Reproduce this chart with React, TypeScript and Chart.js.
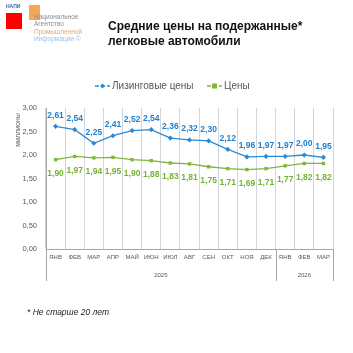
import React, { useEffect, useRef } from "react";
import { Chart, registerables } from "chart.js";

Chart.register(...registerables);

const months = ["ЯНВ", "ФЕВ", "МАР", "АПР", "МАЙ", "ИЮН", "ИЮЛ", "АВГ", "СЕН", "ОКТ", "НОЯ", "ДЕК", "ЯНВ", "ФЕВ", "МАР"];
const years = [
  { label: "2025", count: 12 },
  { label: "2026", count: 3 },
];
const leasingPrices = [2.61, 2.54, 2.25, 2.41, 2.52, 2.54, 2.36, 2.32, 2.3, 2.12, 1.96, 1.97, 1.97, 2.0, 1.95];
const prices = [1.9, 1.97, 1.94, 1.95, 1.9, 1.88, 1.83, 1.81, 1.75, 1.71, 1.69, 1.71, 1.77, 1.82, 1.82];
const seriesNames = ["Лизинговые цены", "Цены"];
const yTicksMin = 0;
const yTicksMax = 3;
const yTicksStep = 0.5;

const BLUE = "#2a8ad6";
const BLUE_TXT = "#1f80d0";
const GREEN = "#7db83a";
const GREEN_TXT = "#74b332";
const FONT = "'Liberation Sans', Arial, sans-serif";

const fmt = (v: number) => v.toFixed(2).replace(".", ",");

const overlayPlugin = {
  id: "overlay",
  afterDraw(chart: any) {
    const ctx = chart.ctx as CanvasRenderingContext2D;
    const xs = chart.scales.x;
    const area = chart.chartArea;
    ctx.save();

    // data labels
    const metaA = chart.getDatasetMeta(0);
    const metaB = chart.getDatasetMeta(1);
    ctx.textAlign = "center";
    ctx.textBaseline = "middle";
    ctx.font = `bold 8.5px ${FONT}`;
    ctx.fillStyle = BLUE_TXT;
    metaA.data.forEach((p: any, i: number) => {
      ctx.fillText(fmt(leasingPrices[i]), p.x, p.y - 11);
    });
    ctx.fillStyle = GREEN_TXT;
    metaB.data.forEach((p: any, i: number) => {
      ctx.fillText(fmt(prices[i]), p.x, p.y + 14);
    });

    // month labels
    ctx.font = `6px ${FONT}`;
    ctx.fillStyle = "#595959";
    months.forEach((m, i) => {
      ctx.fillText(m, xs.getPixelForValue(i), area.bottom + 8);
    });

    // year separators and labels
    const catW = (area.right - area.left) / months.length;
    ctx.strokeStyle = "#a6a6a6";
    ctx.lineWidth = 1;
    let idx = 0;
    const drawSep = (k: number) => {
      const x = Math.round(area.left + k * catW) + 0.5;
      ctx.beginPath();
      ctx.moveTo(x, area.bottom);
      ctx.lineTo(x, area.bottom + 32);
      ctx.stroke();
    };
    drawSep(0);
    years.forEach((y) => {
      const cx = area.left + (idx + y.count / 2) * catW;
      ctx.fillText(y.label, cx, area.bottom + 26);
      idx += y.count;
      drawSep(idx);
    });

    // y axis title
    ctx.save();
    ctx.translate(18, 130);
    ctx.rotate(-Math.PI / 2);
    ctx.font = `7px ${FONT}`;
    ctx.fillStyle = "#595959";
    ctx.fillText("миллионы", 0, 0);
    ctx.restore();

    // legend
    ctx.font = `10px ${FONT}`;
    ctx.textAlign = "left";
    ctx.fillStyle = "#595959";
    const ly = 86;
    const drawLegend = (x: number, color: string, style: string, text: string) => {
      ctx.strokeStyle = color;
      ctx.lineWidth = 1.5;
      ctx.setLineDash([4, 2]);
      ctx.beginPath();
      ctx.moveTo(x, ly);
      ctx.lineTo(x + 15, ly);
      ctx.stroke();
      ctx.setLineDash([]);
      ctx.fillStyle = color;
      if (style === "diamond") {
        ctx.beginPath();
        ctx.moveTo(x + 7.5, ly - 2.5);
        ctx.lineTo(x + 10, ly);
        ctx.lineTo(x + 7.5, ly + 2.5);
        ctx.lineTo(x + 5, ly);
        ctx.closePath();
        ctx.fill();
      } else {
        ctx.fillRect(x + 5, ly - 2.5, 5, 5);
      }
      ctx.fillStyle = "#595959";
      ctx.fillText(text, x + 17, ly + 0.5);
    };
    drawLegend(95, BLUE, "diamond", seriesNames[0]);
    drawLegend(207, GREEN, "square", seriesNames[1]);

    ctx.restore();
  },
};

function App() {
  const ref = useRef<HTMLCanvasElement>(null);
  useEffect(() => {
    if (!ref.current) return;
    const chart = new Chart(ref.current, {
      type: "line",
      data: {
        labels: months.map((m, i) => m + i),
        datasets: [
          {
            label: seriesNames[0],
            data: leasingPrices,
            borderColor: BLUE,
            backgroundColor: BLUE,
            borderWidth: 1.3,
            pointStyle: "rectRot",
            pointRadius: 2.6,
            pointBorderWidth: 0,
            tension: 0,
          },
          {
            label: seriesNames[1],
            data: prices,
            borderColor: GREEN,
            backgroundColor: GREEN,
            borderWidth: 1.3,
            pointStyle: "rect",
            pointRadius: 2.4,
            pointBorderWidth: 0,
            tension: 0,
          },
        ],
      },
      options: {
        responsive: false,
        animation: false,
        layout: { padding: { left: 0, top: 108, right: 20, bottom: 74 } },
        plugins: { legend: { display: false }, tooltip: { enabled: false } },
        scales: {
          x: {
            offset: true,
            grid: { offset: true, color: "#d0d5de", lineWidth: 1, drawTicks: false },
            border: { display: true, color: "#a6a6a6" },
            ticks: { display: false },
            afterFit: (s: any) => {
              s.height = 30;
            },
          },
          y: {
            min: yTicksMin,
            max: yTicksMax,
            grid: { display: false, drawTicks: false },
            border: { display: true, color: "#a6a6a6" },
            ticks: {
              stepSize: yTicksStep,
              padding: 9,
              color: "#595959",
              font: { size: 7.5, family: FONT },
              callback: (v: any) => fmt(Number(v)),
            },
            afterFit: (s: any) => {
              s.width = 46;
            },
          },
        },
      },
      plugins: [overlayPlugin],
    });
    return () => chart.destroy();
  }, []);

  return (
    <div style={{ position: "absolute", left: 0, top: 0, width: 353, height: 353, background: "#fff", fontFamily: FONT }}>
      <canvas ref={ref} width={353} height={353} style={{ position: "absolute", left: 0, top: 0 }} />
      <div style={{ position: "absolute", left: 6, top: 13, width: 16, height: 16, background: "#ff0000" }} />
      <div style={{ position: "absolute", left: 6, top: 3, fontSize: 5, color: "#3b6aa8", fontWeight: "bold", lineHeight: "6px" }}>НАПИ</div>
      <div style={{ position: "absolute", left: 29, top: 5, width: 11, height: 15, background: "rgba(246,150,50,0.85)" }} />
      <div style={{ position: "absolute", left: 34, top: 13, fontSize: 6.5, lineHeight: "7.3px", color: "#8c8c8c", whiteSpace: "nowrap" }}>
        <div>Национальное</div>
        <div>Агентство</div>
        <div style={{ color: "#e8a868" }}>Промышленной</div>
        <div style={{ color: "#9cc3e6" }}>Информации ©</div>
      </div>
      <div style={{ position: "absolute", left: 108, top: 19, fontSize: 12, fontWeight: "bold", lineHeight: "15px", color: "#111", whiteSpace: "nowrap" }}>
        Средние цены на подержанные*
        <br />
        легковые автомобили
      </div>
      <div style={{ position: "absolute", left: 27, top: 307, fontSize: 8.5, fontStyle: "italic", color: "#222", whiteSpace: "nowrap" }}>
        * Не старше 20 лет
      </div>
    </div>
  );
}

export default App;
